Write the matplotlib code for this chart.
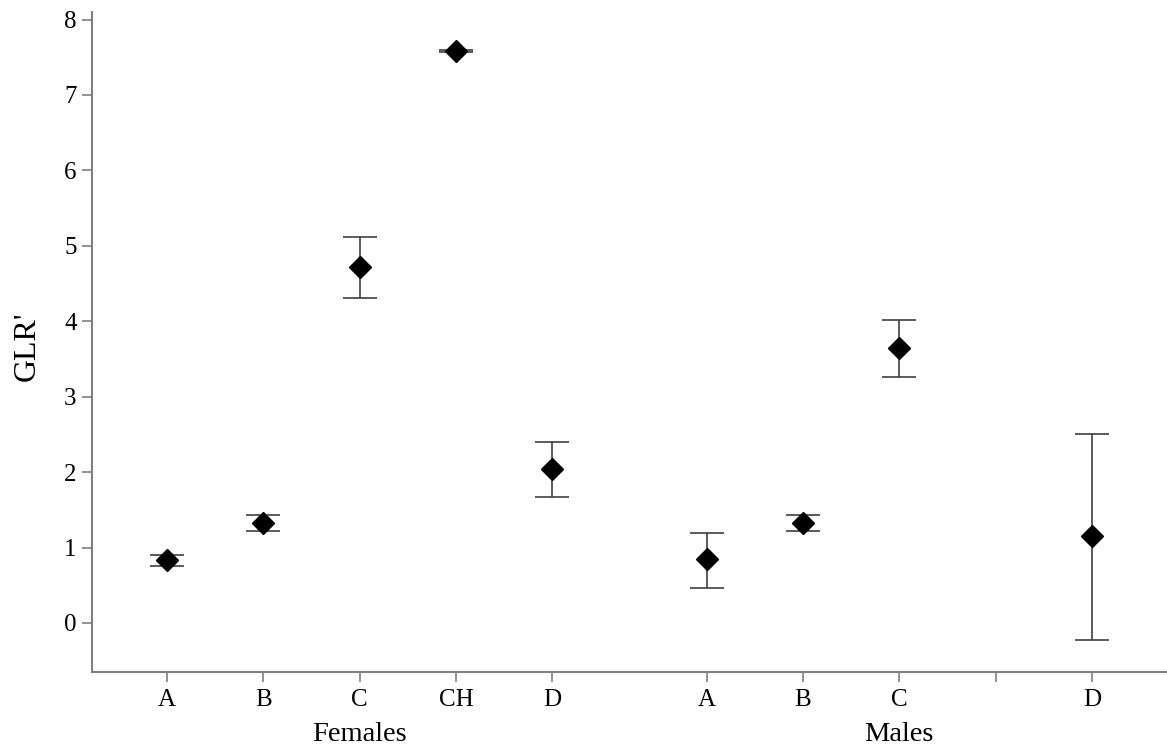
import numpy as np
import matplotlib
matplotlib.use("Agg")
import matplotlib.pyplot as plt

plt.rcParams['font.family'] = ['Liberation Serif', 'DejaVu Serif']

# Data
groups = ["Females", "Males"]
female_cats = ["A", "B", "C", "CH", "D"]
male_cats = ["A", "B", "C", "", "D"]
female_mean = [0.83, 1.33, 4.72, 7.58, 2.04]
female_low = [0.75, 1.22, 4.31, 7.57, 1.67]
female_high = [0.90, 1.43, 5.12, 7.59, 2.40]
male_mean = [0.85, 1.33, 3.65, np.nan, 1.15]
male_low = [0.46, 1.22, 3.26, np.nan, -0.22]
male_high = [1.19, 1.43, 4.02, np.nan, 2.50]

group_gap = 1.6

fig = plt.figure(figsize=(11.67, 7.48), dpi=100)
ax = fig.add_axes([0.0788, 0.1016, 1 - 0.0788, 0.984 - 0.1016])

fx = np.arange(len(female_cats))
mx = np.arange(len(male_cats)) + len(female_cats) - 1 + group_gap

for x, m, lo, hi in [(fx, female_mean, female_low, female_high),
                     (mx, male_mean, male_low, male_high)]:
    m = np.array(m, float); lo = np.array(lo, float); hi = np.array(hi, float)
    yerr = np.vstack([m - lo, hi - m])
    ax.errorbar(x, m, yerr=yerr, fmt='D', color='black', ms=11.5,
                ecolor='#404040', elinewidth=1.2, capsize=12, capthick=1.2,
                zorder=3)

ax.set_xlim(-0.78, 10.38)
ax.set_ylim(-0.65, 8.1)
ax.set_yticks(range(0, 9))
ax.set_xticks(np.concatenate([fx, mx]))
ax.set_xticklabels(female_cats + male_cats)

for s in ['top', 'right']:
    ax.spines[s].set_visible(False)
for s in ['left', 'bottom']:
    ax.spines[s].set_color('#808080')
    ax.spines[s].set_linewidth(1.5)

ax.tick_params(axis='both', direction='out', color='#808080', width=1.2,
               length=7, labelsize=18, labelcolor='black', pad=4)
ax.tick_params(axis='x', pad=5)

fig.text(27 / 1167, 1 - 346 / 748, "GLR'", rotation=90, ha='center',
         va='center', fontsize=23)

ax.text(np.mean(fx), -0.095, groups[0], transform=ax.get_xaxis_transform(),
        ha='center', va='center', fontsize=20.5)
ax.text(np.mean(mx), -0.095, groups[1], transform=ax.get_xaxis_transform(),
        ha='center', va='center', fontsize=20.5)

fig.savefig("out.png", dpi=100)
